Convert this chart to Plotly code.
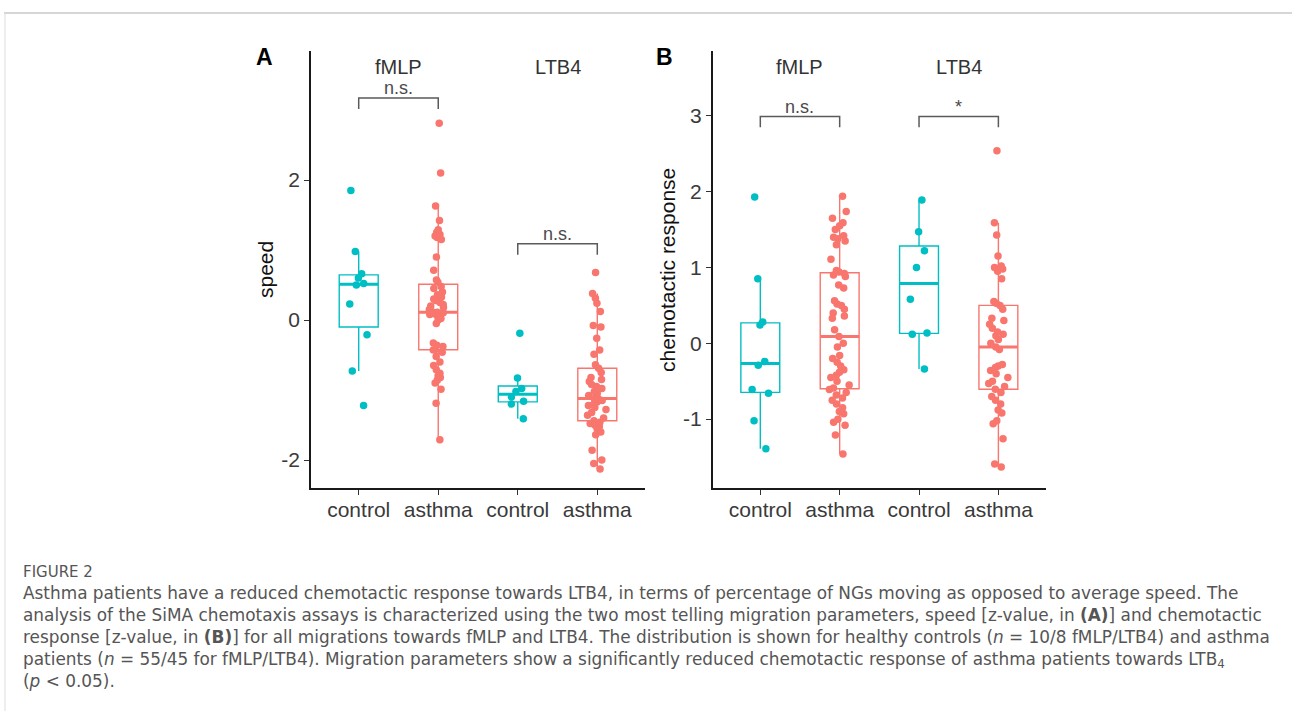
import numpy as np
import plotly.graph_objects as go

# ---------------- data ----------------
group_labels = ["control", "asthma", "control", "asthma"]
stimuli = ["fMLP", "LTB4"]
group_colors = ["#00BFC4", "#F8766D", "#00BFC4", "#F8766D"]

# Panel A: speed (z-value)
speed_fmlp_control = [-1.22, -0.73, -0.21, 0.23, 0.50, 0.52, 0.60, 0.66, 0.98, 1.85]
speed_fmlp_asthma = [-1.71, -1.19, -0.99, -0.90, -0.86, -0.82, -0.80, -0.76, -0.71, -0.65,
                     -0.60, -0.52, -0.46, -0.43, -0.42, -0.38, -0.36, -0.33, -0.05, 0.00,
                     0.02, 0.05, 0.07, 0.08, 0.09, 0.10, 0.105, 0.11, 0.12, 0.15,
                     0.18, 0.20, 0.22, 0.25, 0.28, 0.30, 0.33, 0.36, 0.40, 0.45,
                     0.48, 0.54, 0.57, 0.71, 0.90, 1.15, 1.18, 1.20, 1.22, 1.25,
                     1.29, 1.42, 1.63, 2.10, 2.81]
speed_ltb4_control = [-1.41, -1.20, -1.16, -1.10, -1.02, -0.98, -0.83, -0.19]
speed_ltb4_asthma = [-2.13, -2.05, -2.00, -1.86, -1.64, -1.60, -1.55, -1.52, -1.50, -1.48,
                     -1.46, -1.44, -1.40, -1.36, -1.32, -1.28, -1.25, -1.22, -1.20, -1.17,
                     -1.15, -1.13, -1.12, -1.08, -1.05, -1.02, -0.98, -0.95, -0.92, -0.88,
                     -0.85, -0.82, -0.75, -0.69, -0.64, -0.49, -0.43, -0.26, -0.10, -0.08,
                     0.12, 0.24, 0.31, 0.38, 0.68]

# Panel B: chemotactic response (z-value)
chemo_fmlp_control = [-1.39, -1.02, -0.66, -0.61, -0.29, -0.24, 0.24, 0.28, 0.85, 1.93]
chemo_fmlp_asthma = [-1.46, -1.21, -1.08, -1.04, -1.00, -0.93, -0.90, -0.85, -0.80, -0.75,
                     -0.72, -0.68, -0.65, -0.61, -0.59, -0.55, -0.50, -0.45, -0.42, -0.38,
                     -0.35, -0.30, -0.25, -0.20, -0.16, -0.05, 0.00, 0.09, 0.18, 0.33,
                     0.36, 0.40, 0.45, 0.50, 0.52, 0.56, 0.73, 0.77, 0.88, 0.90,
                     0.92, 0.94, 0.96, 1.11, 1.30, 1.35, 1.38, 1.40, 1.42, 1.50,
                     1.55, 1.59, 1.65, 1.74, 1.94]
chemo_ltb4_control = [-0.34, 0.12, 0.135, 0.58, 1.00, 1.22, 1.47, 1.89]
chemo_ltb4_asthma = [-1.63, -1.59, -1.26, -1.06, -1.02, -0.92, -0.88, -0.80, -0.75, -0.70,
                     -0.65, -0.605, -0.57, -0.53, -0.50, -0.45, -0.40, -0.36, -0.32, -0.30,
                     -0.28, -0.08, -0.05, 0.00, 0.05, 0.10, 0.12, 0.15, 0.20, 0.25,
                     0.30, 0.33, 0.45, 0.50, 0.53, 0.55, 0.85, 0.95, 0.98, 1.00,
                     1.02, 1.15, 1.43, 1.59, 2.54]

speed_groups = [speed_fmlp_control, speed_fmlp_asthma, speed_ltb4_control, speed_ltb4_asthma]
chemo_groups = [chemo_fmlp_control, chemo_fmlp_asthma, chemo_ltb4_control, chemo_ltb4_asthma]

speed_ticks = [-2, 0, 2]
speed_ticktext = ["-2", "0", "2"]
chemo_ticks = [-1, 0, 1, 2, 3]
chemo_ticktext = ["-1", "0", "1", "2", "3"]

# significance brackets: (pair of group positions, label, bracket level)
speed_sig_pairs = [(1, 2), (3, 4)]
speed_sig_labels = ["n.s.", "n.s."]
speed_sig_y = [3.17, 1.09]
chemo_sig_pairs = [(1, 2), (3, 4)]
chemo_sig_labels = ["n.s.", "*"]
chemo_sig_y = [2.99, 2.99]

caption_title = "FIGURE 2"
caption_lines = [
    "Asthma patients have a reduced chemotactic response towards LTB4, in terms of percentage of NGs moving as opposed to average speed. The",
    "analysis of the SiMA chemotaxis assays is characterized using the two most telling migration parameters, speed [z-value, in <b>(A)</b>] and chemotactic",
    "response [z-value, in <b>(B)</b>] for all migrations towards fMLP and LTB4. The distribution is shown for healthy controls (<i>n</i> = 10/8 fMLP/LTB4) and asthma",
    "patients (<i>n</i> = 55/45 for fMLP/LTB4). Migration parameters show a significantly reduced chemotactic response of asthma patients towards LTB<sub>4</sub>",
    "(<i>p</i> &lt; 0.05).",
]

# ---------------- figure ----------------
W, H = 1292, 711
FONT = "Liberation Sans, Arial, Helvetica, sans-serif"
CAPFONT = "DejaVu Sans, Open Sans, sans-serif"


def px_x(p):
    return p / W


def px_y(p):
    return 1 - p / H


def box_stats(vals):
    v = np.sort(np.asarray(vals, dtype=float))
    q1, med, q3 = np.percentile(v, [25, 50, 75])
    iqr = q3 - q1
    lo = v[v >= q1 - 1.5 * iqr].min()
    hi = v[v <= q3 + 1.5 * iqr].max()
    return q1, med, q3, lo, hi


fig = go.Figure()

panels = [
    ("x", "y", speed_groups, speed_sig_pairs, speed_sig_labels, speed_sig_y, 0.157),
    ("x2", "y2", chemo_groups, chemo_sig_pairs, chemo_sig_labels, chemo_sig_y, 0.141),
]

for xa, ya, groups, pairs, labels, levels, drop in panels:
    for i, vals in enumerate(groups):
        pos = i + 1
        col = group_colors[i]
        q1, med, q3, lo, hi = box_stats(vals)
        # box + whiskers
        fig.add_trace(go.Box(
            x=[pos], q1=[q1], median=[med], q3=[q3], lowerfence=[lo], upperfence=[hi],
            line=dict(color=col, width=1.4), fillcolor="rgba(0,0,0,0)",
            whiskerwidth=0, boxpoints=False, xaxis=xa, yaxis=ya,
            hoverinfo="skip", showlegend=False))
        # thicker median line
        fig.add_trace(go.Box(
            x=[pos], q1=[med], median=[med], q3=[med], lowerfence=[med], upperfence=[med],
            line=dict(color=col, width=3), fillcolor="rgba(0,0,0,0)",
            whiskerwidth=0, boxpoints=False, xaxis=xa, yaxis=ya,
            hoverinfo="skip", showlegend=False))
        # jittered points
        fig.add_trace(go.Box(
            x=[pos] * len(vals), y=vals, boxpoints="all", jitter=0.55, pointpos=0,
            line=dict(color="rgba(0,0,0,0)", width=0), fillcolor="rgba(0,0,0,0)",
            marker=dict(color=col, size=7.5, opacity=1),
            xaxis=xa, yaxis=ya, hoverinfo="y", showlegend=False))
    # significance brackets
    for (a, b), lab, lev in zip(pairs, labels, levels):
        fig.add_trace(go.Scatter(
            x=[a, a, b, b], y=[lev - drop, lev, lev, lev - drop], mode="lines",
            line=dict(color="#5a5a5a", width=1.5), xaxis=xa, yaxis=ya,
            hoverinfo="skip", showlegend=False))
        fig.add_annotation(
            x=(a + b) / 2, y=lev, xref=xa, yref=ya, text=lab, showarrow=False,
            yanchor="bottom", yshift=-1, borderpad=0,
            font=dict(family=FONT, size=18, color="#4a4a4a"))
    # stimulus labels
    for k, s in enumerate(stimuli):
        fig.add_annotation(
            x=1.5 + 2 * k, y=px_y(67), xref=xa, yref="paper", text=s, showarrow=False,
            yanchor="middle", borderpad=0,
            font=dict(family=FONT, size=20, color="#333333"))

axis_common = dict(
    showline=True, linecolor="#1a1a1a", linewidth=1.5, ticks="outside", ticklen=5,
    tickcolor="#333333", tickwidth=1.2, showgrid=False, zeroline=False,
    tickfont=dict(family=FONT, size=21, color="#3a3a3a"), fixedrange=True,
)

ydom = [px_y(488.3), px_y(51)]
fig.update_layout(
    width=W, height=H, margin=dict(l=0, r=0, t=0, b=0),
    paper_bgcolor="white", plot_bgcolor="white", showlegend=False,
    boxmode="overlay", boxgap=0.3,
    xaxis=dict(domain=[px_x(311), px_x(645)], range=[0.4, 4.6], ticklabelstandoff=-3,
               tickvals=[1, 2, 3, 4], ticktext=group_labels, anchor="y", **axis_common),
    yaxis=dict(domain=ydom, range=[-2.404, 3.843], tickvals=speed_ticks,
               ticktext=speed_ticktext, anchor="x", **axis_common),
    xaxis2=dict(domain=[px_x(712.7), px_x(1046)], range=[0.4, 4.6], ticklabelstandoff=-3,
                tickvals=[1, 2, 3, 4], ticktext=group_labels, anchor="y2", **axis_common),
    yaxis2=dict(domain=ydom, range=[-1.912, 3.855], tickvals=chemo_ticks,
                ticktext=chemo_ticktext, anchor="x2", **axis_common),
)

# axis titles
fig.add_annotation(x=px_x(265), y=px_y(270), xref="paper", yref="paper", text="speed",
                   textangle=-90, showarrow=False, xanchor="center", yanchor="middle",
                   font=dict(family=FONT, size=21, color="#111111"))
fig.add_annotation(x=px_x(667), y=px_y(270), xref="paper", yref="paper",
                   text="chemotactic response", textangle=-90, showarrow=False,
                   xanchor="center", yanchor="middle",
                   font=dict(family=FONT, size=21, color="#111111"))

# panel letters
for letter, xp in [("A", 264), ("B", 665)]:
    fig.add_annotation(x=px_x(xp), y=px_y(57), xref="paper", yref="paper",
                       text="<b>%s</b>" % letter, showarrow=False,
                       xanchor="center", yanchor="middle",
                       font=dict(family=FONT, size=23, color="#000000"))

# caption (one multi-line text block)
caption_text = ("<span style='font-size:15px'>" + caption_title + "</span><br>"
                + "<br>".join(caption_lines))
fig.add_annotation(x=px_x(22), y=px_y(626.5), xref="paper", yref="paper", text=caption_text,
                   showarrow=False, xanchor="left", yanchor="middle", align="left",
                   borderpad=0, font=dict(family=CAPFONT, size=16.9, color="#555555"))

# frame lines
fig.add_shape(type="line", xref="paper", yref="paper", x0=px_x(4), x1=1,
              y0=px_y(13), y1=px_y(13), line=dict(color="#d6d6d6", width=2))
fig.add_shape(type="line", xref="paper", yref="paper", x0=px_x(5), x1=px_x(5),
              y0=px_y(13), y1=0, line=dict(color="#dddddd", width=1))

fig.write_html("out.html", config={"displayModeBar": False})
